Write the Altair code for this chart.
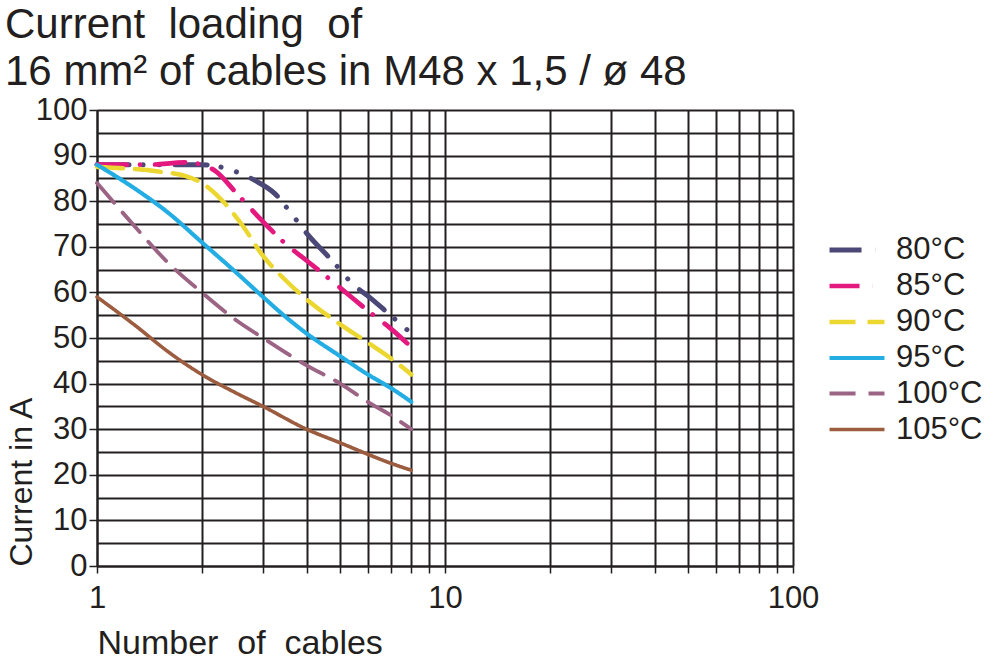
import altair as alt
import pandas as pd

series = ["80°C", "85°C", "90°C", "95°C", "100°C", "105°C"]
colors = ["#4b4877", "#e3197f", "#ecd630", "#24ade2", "#9b6484", "#9c5c3f"]
dashes = [[32, 14, 0.1, 16, 0.1, 16], [30, 13, 0.1, 15], [26, 12], [1, 0], [26, 13], [1, 0]]
widths = [5, 3.6, 4, 4, 3.6, 3.6]

x_80 = [1, 1.5, 2, 2.5, 2.85, 3.25, 3.6, 4, 4.8, 5.4, 6.1, 6.85, 8]
y_80 = [88, 88, 88, 86.5, 84.5, 81.6, 77.5, 73, 66.5, 62, 58.8, 55.5, 51]
x_85 = [1, 1.4, 1.8, 2, 2.2, 2.5, 3, 3.5, 4, 5, 6, 7, 8]
y_85 = [88, 88, 88.5, 88, 86.5, 82, 75.5, 70.5, 67, 61, 56, 52, 48]
x_90 = [1, 1.5, 1.8, 2, 2.3, 2.6, 3, 3.5, 4, 5, 6, 7, 8]
y_90 = [87.5, 86.5, 85.5, 84, 80, 75, 68, 62.5, 58.5, 53, 49, 45.5, 42]
x_95 = [1, 1.3, 1.6, 2, 2.5, 3, 3.5, 4, 5, 6, 7, 8]
y_95 = [88, 82.5, 77.5, 71, 64.5, 59, 54.5, 51, 46, 42, 39, 36]
x_100 = [1, 1.3, 1.6, 2, 2.5, 3, 4, 5, 6, 7, 8]
y_100 = [84, 74, 66.5, 60, 54, 50, 44, 40, 36, 33, 30]
x_105 = [1, 1.3, 1.6, 2, 2.5, 3, 4, 5, 6, 7, 8]
y_105 = [59, 52.5, 47, 42, 38, 35, 30, 27, 24.5, 22.5, 21]

xs = [x_80, x_85, x_90, x_95, x_100, x_105]
ys = [y_80, y_85, y_90, y_95, y_100, y_105]

rows = []
for s, xv, yv in zip(series, xs, ys):
    for i, (a, b) in enumerate(zip(xv, yv)):
        rows.append({"series": s, "n": a, "current": b, "order": i})
df = pd.DataFrame(rows)

x_grid = [1, 2, 3, 4, 5, 6, 7, 8, 9, 10, 20, 30, 40, 50, 60, 70, 80, 90, 100]
y_grid = list(range(0, 101, 5))

FONT = "Liberation Sans"
TXT = "#231f20"
GRID = "#231f20"

legend_cfg = dict(title=None, orient="none", legendX=740, legendY=120,
                  symbolType="M-1.57,0H1.57", symbolSize=1225, symbolStrokeWidth=4,
                  labelFontSize=31, labelFont=FONT, labelColor=TXT,
                  rowPadding=1, labelOffset=19)

lines = alt.Chart(df).mark_line(strokeCap="round", strokeJoin="round", interpolate="monotone").encode(
    x=alt.X("n:Q", scale=alt.Scale(type="log", domain=[1, 100], nice=False),
            axis=alt.Axis(values=x_grid, grid=True, gridColor=GRID, gridWidth=2,
                          labelExpr="(datum.value == 1 || datum.value == 10 || datum.value == 100) ? datum.label : ''",
                          tickSize=7, tickColor=GRID, tickWidth=1.5,
                          domainColor=GRID, domainWidth=2,
                          labelFontSize=31, labelFont=FONT, labelColor=TXT, labelPadding=10,
                          title="Number\u00a0 of\u00a0 cables", titleFontSize=34, titleFont=FONT,
                          titleFontWeight="normal", titleColor=TXT, titleAnchor="start",
                          titlePadding=13, labelFlush=False)),
    y=alt.Y("current:Q", scale=alt.Scale(domain=[0, 100], nice=False),
            axis=alt.Axis(values=y_grid, grid=True, gridColor=GRID, gridWidth=2,
                          labelExpr="datum.value % 10 == 0 ? datum.label : ''",
                          tickSize=8, tickColor=GRID, tickWidth=1.5,
                          tickOpacity={"expr": "datum.value % 10 == 0 ? 1 : 0"},
                          domainColor=GRID, domainWidth=2,
                          labelFontSize=31, labelFont=FONT, labelColor=TXT, labelPadding=2,
                          title="Current in A", titleFontSize=32, titleFont=FONT,
                          titleFontWeight="normal", titleColor=TXT, titleAnchor="start",
                          titlePadding=-3)),
    color=alt.Color("series:N", scale=alt.Scale(domain=series, range=colors),
                    legend=alt.Legend(**legend_cfg)),
    strokeDash=alt.StrokeDash("series:N", scale=alt.Scale(domain=series, range=dashes),
                              legend=alt.Legend(**legend_cfg)),
    strokeWidth=alt.StrokeWidth("series:N", scale=alt.Scale(domain=series, range=widths), legend=None),
    order="order:Q",
)

chart = lines.properties(
    width=696, height=456,
    autosize=alt.AutoSizeParams(type="none"),
    padding={"left": 97, "top": 110, "right": 207, "bottom": 94},
    title=alt.TitleParams(text=["Current\u00a0 loading\u00a0 of", "\u00a016 mm² of cables in M48 x 1,5 / ø 48"],
                          anchor="start", frame="group", fontSize=42, font=FONT, fontWeight="normal",
                          color=TXT, lineHeight=47, offset=12, dx=-92, dy=12),
).configure_view(stroke=None).configure(background="white")

chart.save("out.html", embed_options={"renderer": "svg", "actions": False})
